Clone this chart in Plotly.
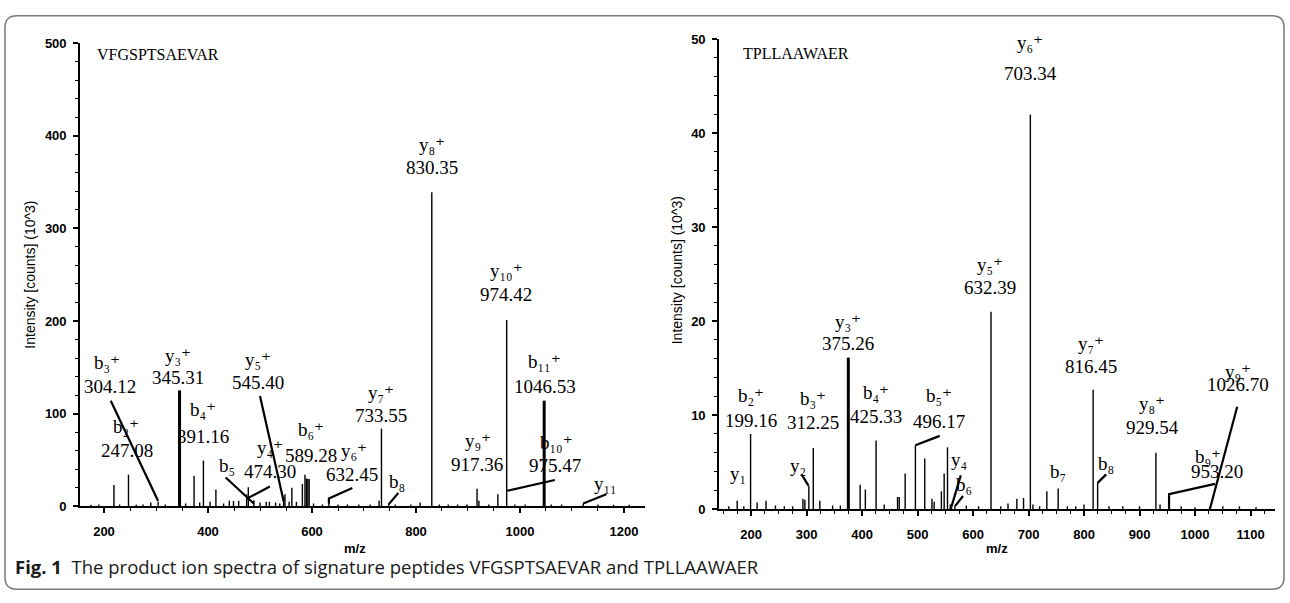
import plotly.graph_objects as go

W, H = 1290, 603

# ---------------- data ----------------
# Left spectrum: VFGSPTSAEVAR (intensity in 10^3 counts)
left_mz = [175, 190, 219.1, 230, 247.1, 262, 275, 290, 304.1, 318,
           345.3, 357, 373.2, 384, 391.2, 404, 415.2, 430, 441, 449,
           459, 474.3, 477.5, 488.3, 500, 512, 518, 530, 538, 545.4,
           548, 556, 561.3, 570, 581.5, 586.5, 589.3, 592, 594.5, 603,
           620, 632.5, 650, 668, 690, 712, 729, 733.6, 747.4, 760,
           790, 808, 830.4, 845, 862, 880, 898, 917.4, 921, 940,
           957.4, 974.4, 990, 1010, 1046.5, 1060, 1080, 1121.6, 1150, 1180,
           1210]
left_int = [1.5, 2, 23, 2, 34, 1.5, 2, 4, 5, 2,
            125, 3, 33, 4, 49.5, 5, 18, 3, 6, 5.6,
            6, 12.6, 20.4, 6.4, 4, 5, 5, 4, 3, 10,
            13, 5, 20, 5, 24, 34, 30, 29.5, 29.5, 3,
            2, 4, 2, 2, 2, 2, 6, 84, 3, 2,
            2, 4, 339, 2, 2, 2, 2, 19, 6, 2,
            13, 201, 2, 2, 114, 2, 2, 3, 2, 1.5,
            1.5]
left_heavy = [345.3, 1046.5]

# Right spectrum: TPLLAAWAER
right_mz = [160, 175.1, 187, 199.2, 211, 227, 244, 260, 275, 293.5,
            297, 304.2, 312.2, 324, 347, 361, 375.3, 396.6, 406, 425.3,
            440, 464, 467, 477.7, 496.2, 513, 526, 530, 543, 548,
            554, 559, 561.3, 567.3, 588, 610, 632.4, 650, 663, 679,
            691, 703.3, 708, 720, 733, 753.4, 770, 785, 800, 816.4,
            824.5, 845, 870, 900, 929.5, 937, 953.2, 975, 1000, 1026.7,
            1050, 1080, 1110]
right_int = [0.3, 0.9, 0.3, 8.0, 0.7, 0.9, 0.4, 0.3, 0.3, 1.1,
             1.0, 2.5, 6.5, 0.9, 0.4, 0.4, 16.1, 2.6, 2.1, 7.3,
             0.5, 1.3, 1.3, 3.8, 6.8, 5.4, 1.1, 0.8, 1.9, 3.8,
             6.6, 0.5, 0.3, 0.3, 0.4, 0.3, 21.0, 0.3, 0.6, 1.1,
             1.2, 42.0, 0.5, 0.3, 1.9, 2.2, 0.3, 0.3, 0.5, 12.7,
             2.8, 0.3, 0.3, 0.3, 6.0, 0.5, 0.2, 0.3, 0.2, 0.2,
             0.3, 0.3, 0.2]
right_heavy = [375.3]

peptides = ["VFGSPTSAEVAR", "TPLLAAWAER"]
caption_bold = "Fig. 1"
caption_text = "The product ion spectra of signature peptides VFGSPTSAEVAR and TPLLAAWAER"
y_title = "Intensity [counts] (10^3)"
x_title = "m/z"

# Ion labels: (ion, m/z text)
left_ions = [("b₃⁺", "304.12"), ("b₂⁺", "247.08"), ("y₃⁺", "345.31"), ("b₄⁺", "391.16"),
             ("y₅⁺", "545.40"), ("b₅", ""), ("y₄⁺", "474.30"), ("b₆⁺", "589.28"),
             ("y₆⁺", "632.45"), ("y₇⁺", "733.55"), ("b₈", ""), ("y₈⁺", "830.35"),
             ("y₉⁺", "917.36"), ("y₁₀⁺", "974.42"), ("b₁₁⁺", "1046.53"), ("b₁₀⁺", "975.47"),
             ("y₁₁", "")]
right_ions = [("y₁", ""), ("b₂⁺", "199.16"), ("y₂", ""), ("b₃⁺", "312.25"),
              ("y₃⁺", "375.26"), ("b₄⁺", "425.33"), ("b₅⁺", "496.17"), ("y₄", ""),
              ("b₆", ""), ("y₅⁺", "632.39"), ("y₆⁺", "703.34"), ("b₇", ""),
              ("y₇⁺", "816.45"), ("b₈", ""), ("y₈⁺", "929.54"), ("b₉⁺", "953.20"),
              ("y₉⁺", "1026.70")]

# ---------------- placement (data coordinates) ----------------
# (x_ion, y_ion, x_val, y_val)
left_lab_pos = [(206, 155, 211, 129.5), (242, 86, 244, 60),
                (343, 163, 343, 139), (390, 104, 390, 75),
                (496, 158, 496, 134), (436, 44, 0, 0),
                (519, 63, 519, 37), (599, 83, 598, 55),
                (680, 60, 676, 34), (733, 123, 733, 97.6),
                (764, 27, 0, 0), (830, 391, 830, 366),
                (920, 70.5, 917, 45), (974, 254, 974, 229),
                (1048, 156.5, 1048, 129), (1070, 69, 1067, 43.5),
                (1165, 25, 0, 0)]
right_lab_pos = [(177, 3.8, 0, 0), (200.6, 12.07, 200.6, 9.41),
                 (285, 4.7, 0, 0), (312.2, 11.8, 312.2, 9.2),
                 (374, 20.0, 374, 17.6), (424.6, 12.4, 424.6, 9.9),
                 (538, 12.07, 538, 9.3), (575, 5.3, 0, 0),
                 (584, 2.6, 0, 0), (630, 26.0, 630, 23.6),
                 (703, 49.6, 703, 46.4), (752.6, 4.0, 0, 0),
                 (812, 17.6, 812, 15.2), (840, 4.9, 0, 0),
                 (923, 11.2, 923, 8.7), (1024, 5.6, 1039, 4.0),
                 (1078, 14.6, 1078, 13.25)]

# leader lines (data coordinates)
left_leaders = [[(213, 114), (304.1, 5.6)], [(500, 119), (545.4, 5.6)],
                [(434, 31), (488, 3)], [(474.3, 8), (519, 21.4)],
                [(632.5, 3), (632.5, 8.4), (677.6, 19.6)], [(747.4, 2), (766, 14.4)],
                [(975.5, 16.8), (1067, 28.4)], [(1121.6, 3), (1166, 13)]]
right_leaders = [[(291, 3.7), (303.5, 2.5)], [(496.2, 6.8), (540, 7.8)],
                 [(561.3, 0.3), (578, 3.6)], [(567.3, 0.3), (582, 1.4)],
                 [(824.5, 2.8), (840, 3.7)], [(953.2, 0), (953.2, 1.6), (1036, 2.7)],
                 [(1026.7, 0), (1076, 10.9)]]

# ---------------- geometry (pixels) ----------------
L_X0, L_X1, L_Y0, L_Y1 = 80, 645, 512, 37
R_X0, R_X1, R_Y0, R_Y1 = 719, 1275, 515, 33
L_RANGE = [153.85, 1240.4]
R_RANGE = [142.3, 1144.1]

SERIF = "Liberation Serif, DejaVu Serif, serif"
SANS = "Liberation Sans, Arial, sans-serif"


def stems(mz, inten):
    xs, ys = [], []
    for m, v in zip(mz, inten):
        xs += [m, m, None]
        ys += [0, v, None]
    return xs, ys


def lines(segs):
    xs, ys = [], []
    for seg in segs:
        for (a, b) in seg:
            xs.append(a)
            ys.append(b)
        xs.append(None)
        ys.append(None)
    return xs, ys


fig = go.Figure()

for mz, inten, heavy, leaders, xa, ya in [
        (left_mz, left_int, left_heavy, left_leaders, "x", "y"),
        (right_mz, right_int, right_heavy, right_leaders, "x2", "y2")]:
    xs, ys = stems(mz, inten)
    fig.add_trace(go.Scatter(x=xs, y=ys, mode="lines", xaxis=xa, yaxis=ya,
                             line=dict(color="black", width=1.4), hoverinfo="skip"))
    hv = [inten[mz.index(h)] for h in heavy]
    xs, ys = stems(heavy, hv)
    fig.add_trace(go.Scatter(x=xs, y=ys, mode="lines", xaxis=xa, yaxis=ya,
                             line=dict(color="black", width=3), hoverinfo="skip"))
    xs, ys = lines(leaders)
    fig.add_trace(go.Scatter(x=xs, y=ys, mode="lines", xaxis=xa, yaxis=ya,
                             line=dict(color="black", width=2.2), hoverinfo="skip"))

ann = []
lab_font = dict(family=SERIF, size=19, color="black")
for ions, pos, xr, yr in [(left_ions, left_lab_pos, "x", "y"),
                          (right_ions, right_lab_pos, "x2", "y2")]:
    for (ion, val), (xi, yi, xv, yv) in zip(ions, pos):
        ann.append(dict(x=xi, y=yi, xref=xr, yref=yr, text=ion, showarrow=False,
                        font=lab_font, xanchor="center", yanchor="middle"))
        if val:
            ann.append(dict(x=xv, y=yv, xref=xr, yref=yr, text=val, showarrow=False,
                            font=lab_font, xanchor="center", yanchor="middle"))

# peptide names
ann.append(dict(x=183, y=488, xref="x", yref="y", text=peptides[0], showarrow=False,
                font=dict(family=SERIF, size=16, color="black"), xanchor="left", yanchor="middle"))
ann.append(dict(x=181.5, y=48.5, xref="x2", yref="y2", text=peptides[1], showarrow=False,
                font=dict(family=SERIF, size=16, color="black"), xanchor="left", yanchor="middle"))

# axis titles
for cx, cy in [(30, (L_Y0 + L_Y1) / 2), (677, (R_Y0 + R_Y1) / 2 - 4)]:
    ann.append(dict(x=cx / W, y=1 - cy / H, xref="paper", yref="paper", text=y_title,
                    textangle=-90, showarrow=False, xanchor="center", yanchor="middle",
                    font=dict(family=SANS, size=14, color="black")))
for cx in [(L_X0 + L_X1) / 2 - 8, (R_X0 + R_X1) / 2]:
    ann.append(dict(x=cx / W, y=1 - 555 / H, xref="paper", yref="paper", text="<b>" + x_title + "</b>",
                    showarrow=False, xanchor="center", yanchor="middle",
                    font=dict(family=SANS, size=13, color="black")))

# caption
ann.append(dict(x=13 / W, y=1 - 574 / H, xref="paper", yref="paper",
                text="<b>" + caption_bold + "</b>\u00a0\u00a0" + caption_text,
                showarrow=False, xanchor="left", yanchor="middle",
                font=dict(family="Open Sans", size=18.5, color="#1a1a1a")))

# rounded frame
fx0, fy0, fx1, fy1, r = 5, 9, 1284, 597, 12


def P(x, y):
    return f"{x / W:.5f},{1 - y / H:.5f}"


path = (f"M {P(fx0 + r, fy0)} L {P(fx1 - r, fy0)} Q {P(fx1, fy0)} {P(fx1, fy0 + r)} "
        f"L {P(fx1, fy1 - r)} Q {P(fx1, fy1)} {P(fx1 - r, fy1)} "
        f"L {P(fx0 + r, fy1)} Q {P(fx0, fy1)} {P(fx0, fy1 - r)} "
        f"L {P(fx0, fy0 + r)} Q {P(fx0, fy0)} {P(fx0 + r, fy0)} Z")

tick_font = dict(family=SANS, size=13, color="black", weight="bold")
axis_common = dict(showline=True, linecolor="black", linewidth=1.6, ticks="outside",
                   ticklen=5, tickwidth=1.5, tickcolor="black", showgrid=False,
                   zeroline=False, tickfont=tick_font, mirror=False)

fig.update_layout(
    width=W, height=H, margin=dict(l=0, r=0, t=0, b=0),
    paper_bgcolor="white", plot_bgcolor="white", showlegend=False,
    annotations=ann,
    shapes=[dict(type="path", path=path, xref="paper", yref="paper",
                 line=dict(color="#7a7a7a", width=1.5))],
    xaxis=dict(domain=[L_X0 / W, L_X1 / W], range=L_RANGE, anchor="y",
               tickmode="linear", tick0=0, dtick=200, ticklabelstandoff=7,
               minor=dict(ticks="outside", dtick=50, ticklen=3, tickwidth=1, tickcolor="black"),
               **axis_common),
    yaxis=dict(domain=[1 - L_Y0 / H, 1 - L_Y1 / H], range=[0, 500], anchor="x",
               tickmode="linear", tick0=0, dtick=100, ticklabelstandoff=4,
               minor=dict(ticks="outside", dtick=20, ticklen=3, tickwidth=1, tickcolor="black"),
               **axis_common),
    xaxis2=dict(domain=[R_X0 / W, R_X1 / W], range=R_RANGE, anchor="y2",
                tickmode="linear", tick0=0, dtick=100, ticklabelstandoff=7,
                minor=dict(ticks="outside", dtick=25, ticklen=3, tickwidth=1, tickcolor="black"),
                **axis_common),
    yaxis2=dict(domain=[1 - R_Y0 / H, 1 - R_Y1 / H], range=[0, 50], anchor="x2",
                tickmode="linear", tick0=0, dtick=10, ticklabelstandoff=4,
                minor=dict(ticks="outside", dtick=2, ticklen=3, tickwidth=1, tickcolor="black"),
                **axis_common),
)

fig.write_html("out.html")
